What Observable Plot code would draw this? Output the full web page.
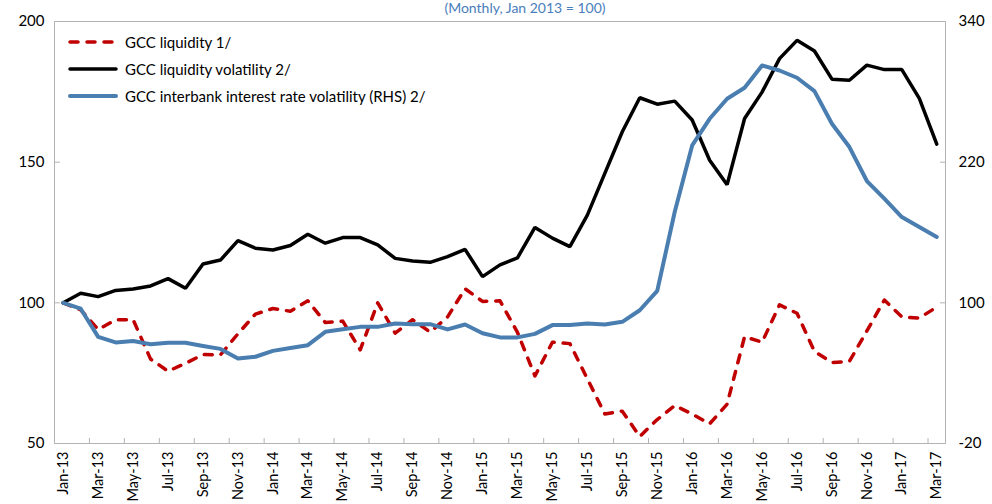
<!DOCTYPE html>
<html>
<head>
<meta charset="utf-8">
<script src="https://cdn.jsdelivr.net/npm/d3@7"></script>
<script src="https://cdn.jsdelivr.net/npm/@observablehq/plot@0.6"></script>
<style>
  html, body { margin: 0; padding: 0; background: #fff; }
  #wrap { position: relative; width: 992px; height: 504px; overflow: hidden; font-family: Lato, "Open Sans", sans-serif; }
  #chart { position: absolute; left: 0; top: 0; }
  #title { position: absolute; left: 0; width: 1050px; text-align: center; top: 0px; font-size: 14px; line-height: 16px; color: #4a7ebb; white-space: nowrap; }
  #legend { position: absolute; left: 67px; top: 28px; font-size: 15px; color: #000; }
  #legend .row { display: flex; align-items: center; height: 27px; }
  #legend svg { width: 52px; height: 12px; margin-right: 6px; }
</style>
</head>
<body>
<div id="wrap">
  <div id="chart"></div>
  <div id="title">(Monthly, Jan 2013 = 100)</div>
  <div id="legend"></div>
</div>
<script>
const months = ["Jan-13","Feb-13","Mar-13","Apr-13","May-13","Jun-13","Jul-13","Aug-13","Sep-13","Oct-13","Nov-13","Dec-13",
  "Jan-14","Feb-14","Mar-14","Apr-14","May-14","Jun-14","Jul-14","Aug-14","Sep-14","Oct-14","Nov-14","Dec-14",
  "Jan-15","Feb-15","Mar-15","Apr-15","May-15","Jun-15","Jul-15","Aug-15","Sep-15","Oct-15","Nov-15","Dec-15",
  "Jan-16","Feb-16","Mar-16","Apr-16","May-16","Jun-16","Jul-16","Aug-16","Sep-16","Oct-16","Nov-16","Dec-16",
  "Jan-17","Feb-17","Mar-17"];

const liquidity = [100, 97.5, 90.5, 94, 94, 80, 75.7, 78.5, 81.6, 81.5,
  89, 96, 98, 97, 100.7, 93, 93.5, 83.3, 100, 89.2,
  94, 89.6, 95, 105, 100.5, 100.7, 89.5, 74, 86, 85.5,
  73, 60.5, 61.5, 52.5, 58.5, 63.5, 60.5, 57, 64, 88,
  86, 99.3, 96.3, 82.7, 78.8, 79.2, 90, 101, 95, 94.6, 98.5];

const volatility = [100, 103.4, 102.2, 104.4, 104.9, 106, 108.6, 105.2, 113.8, 115.2,
  122.1, 119.4, 118.8, 120.4, 124.4, 121.2, 123.2, 123.2, 120.6, 115.8,
  114.9, 114.4, 116.4, 119, 109.3, 113.5, 116, 126.8, 123, 120,
  131.2, 146, 160.8, 172.9, 170.6, 171.7, 165, 150.7, 142, 165.5,
  174.9, 186.8, 193.3, 189.5, 179.5, 179.1, 184.5, 182.9, 182.9, 172.7, 156.4];

// right-hand scale
const interbank = [100, 95, 71, 66.2, 67.5, 64.7, 66, 66, 63.2, 60.7,
  52.6, 54, 59, 61.5, 63.9, 75.3, 77.5, 79.5, 79.5, 82.4,
  81.8, 81.8, 77.3, 81.5, 74, 70.5, 70.5, 73.5, 81, 81,
  82.4, 81.5, 83.8, 93.7, 110.2, 177.5, 234.3, 257, 274.1, 283.5,
  302.5, 298.2, 292, 280.6, 252.8, 232.9, 203.9, 188.9, 173.2, 164.7, 156.2];

const leftDomain = [50, 200];
const rightDomain = [-20, 340];
const leftTicks = [50, 100, 150, 200];
const rightTicks = [-20, 100, 220, 340];
const seriesNames = ["GCC liquidity 1/", "GCC liquidity volatility 2/", "GCC interbank interest rate volatility (RHS) 2/"];
const labelMonths = months.filter((m, i) => i % 2 === 0);
const tickMonths = months.filter((m, i) => i % 2 === 1);

const toLeft = r => leftDomain[0] + (r - rightDomain[0]) * (leftDomain[1] - leftDomain[0]) / (rightDomain[1] - rightDomain[0]);
const toRight = l => rightDomain[0] + (l - leftDomain[0]) * (rightDomain[1] - rightDomain[0]) / (leftDomain[1] - leftDomain[0]);

const rows = months.map((m, i) => ({month: m, liq: liquidity[i], vol: volatility[i], ib: toLeft(interbank[i])}));

const W = 992, H = 504, ML = 54, MR = 47, MT = 21, MB = 61;
const step = (W - ML - MR) / months.length;
const axisGray = "#b3b3b3";

const styles = [
  {stroke: "#c00000", strokeWidth: 3.5, dash: "8,9"},
  {stroke: "#000000", strokeWidth: 3.5, dash: null},
  {stroke: "#4a7eb0", strokeWidth: 4, dash: null}
];

const chart = Plot.plot({
  width: W, height: H,
  marginLeft: ML, marginRight: MR, marginTop: MT, marginBottom: MB,
  style: {fontFamily: "Lato, 'Open Sans', sans-serif", fontSize: "15px", color: "#000", background: "#fff"},
  x: {type: "point", domain: months, padding: 0.5, round: false},
  y: {domain: leftDomain},
  marks: [
    Plot.frame({stroke: axisGray}),
    Plot.axisY({ticks: leftTicks, tickSize: 0, tickPadding: 10, label: null}),
    Plot.axisY({ticks: leftTicks, tickSize: 6, dx: 6, text: null, stroke: axisGray, label: null}),
    Plot.axisY({anchor: "right", ticks: rightTicks.map(toLeft), tickFormat: d => String(Math.round(toRight(d))), tickSize: 0, tickPadding: 13, label: null}),
    Plot.axisY({anchor: "right", ticks: rightTicks.map(toLeft), tickSize: 6, dx: -6, text: null, stroke: axisGray, label: null}),
    Plot.axisX({ticks: labelMonths, tickSize: 0, tickPadding: 8, tickRotate: -90, label: null, fontSize: 14.5}),
    Plot.axisX({ticks: tickMonths, tickSize: 5, dy: -5, dx: step / 2, text: null, stroke: axisGray, label: null}),
    Plot.line(rows, {x: "month", y: "liq", stroke: styles[0].stroke, strokeWidth: styles[0].strokeWidth, strokeDasharray: styles[0].dash, strokeLinecap: "round", strokeLinejoin: "round"}),
    Plot.line(rows, {x: "month", y: "vol", stroke: styles[1].stroke, strokeWidth: styles[1].strokeWidth, strokeLinejoin: "miter"}),
    Plot.line(rows, {x: "month", y: "ib", stroke: styles[2].stroke, strokeWidth: styles[2].strokeWidth, strokeLinejoin: "round"})
  ]
});
document.getElementById("chart").appendChild(chart);

const legend = document.getElementById("legend");
seriesNames.forEach((name, i) => {
  const s = styles[i];
  const row = document.createElement("div");
  row.className = "row";
  row.innerHTML = `<svg viewBox="0 0 52 12"><line x1="3" y1="6" x2="49" y2="6" stroke="${s.stroke}" stroke-width="${s.strokeWidth}" stroke-linecap="round" ${s.dash ? `stroke-dasharray="${s.dash}"` : ""}/></svg><span>${name}</span>`;
  legend.appendChild(row);
});
</script>
</body>
</html>
